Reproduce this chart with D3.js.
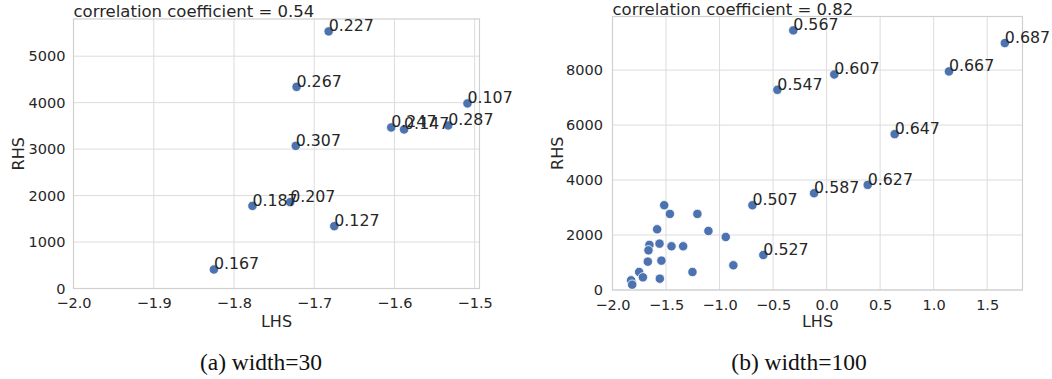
<!DOCTYPE html>
<html>
<head>
<meta charset="utf-8">
<script src="https://cdn.jsdelivr.net/npm/d3@7.9.0/dist/d3.min.js"></script>
<style>
  body { margin: 0; background: #fff; }
  svg { display: block; }
  text { font-family: "DejaVu Sans", sans-serif; fill: #262626; }
  .caption { font-family: "Liberation Serif", "Times New Roman", serif; fill: #111; }
</style>
</head>
<body>
<svg id="chart" width="1052" height="379"></svg>
<script>
// (a) width=30
const lhsA = [-1.682, -1.722, -1.509, -1.604, -1.588, -1.533, -1.723, -1.777, -1.730, -1.675, -1.825];
const rhsA = [5533, 4340, 3983, 3466, 3423, 3509, 3070, 1778, 1858, 1341, 409];
const labelsA = ["0.227", "0.267", "0.107", "0.247", "0.147", "0.287", "0.307", "0.187", "0.207", "0.127", "0.167"];
const xTicksA = [-2.0, -1.9, -1.8, -1.7, -1.6, -1.5];
const yTicksA = [0, 1000, 2000, 3000, 4000, 5000];

// (b) width=100 -- labelled points first, then the unlabelled cluster
const lhsB = [-0.311, 1.665, 0.072, 1.143, -0.460, 0.636, 0.384, -0.117, -0.693, -0.591,
  -1.517, -1.464, -1.207, -1.583, -1.104, -0.942, -1.655, -1.561, -1.449, -1.340,
  -1.664, -1.670, -1.543, -0.871, -1.751, -1.253, -1.716, -1.558, -1.826, -1.816];
const rhsB = [9444, 8983, 7842, 7951, 7283, 5669, 3824, 3520, 3083, 1274,
  3084, 2768, 2768, 2209, 2148, 1930, 1639, 1687, 1590, 1590,
  1444, 1032, 1068, 899, 655, 655, 461, 412, 352, 194];
const labelsB = ["0.567", "0.687", "0.607", "0.667", "0.547", "0.647", "0.627", "0.587", "0.507", "0.527"];
const xTicksB = [-2.0, -1.5, -1.0, -0.5, 0.0, 0.5, 1.0, 1.5];
const yTicksB = [0, 2000, 4000, 6000, 8000];

const svg = d3.select("#chart");

const panels = [
  {
    lhs: lhsA, rhs: rhsA, labels: labelsA, xTicks: xTicksA, yTicks: yTicksA,
    xDomain: [-2.0, -1.494], yDomain: [0, 5800],
    left: 73.5, right: 479.5, top: 19, bottom: 288.5, yPad: 8,
    title: "correlation coefficient = 0.54", titleY: 16.5,
    rhsX: 18, caption: "(a) width=30", capX: 261
  },
  {
    lhs: lhsB, rhs: rhsB, labels: labelsB, xTicks: xTicksB, yTicks: yTicksB,
    xDomain: [-2.0, 1.83], yDomain: [0, 9950],
    left: 612.5, right: 1022.5, top: 16.5, bottom: 290, yPad: 9.5,
    title: "correlation coefficient = 0.82", titleY: 15,
    rhsX: 557, caption: "(b) width=100", capX: 799
  }
];

panels.forEach(p => {
  const x = d3.scaleLinear().domain(p.xDomain).range([p.left, p.right]);
  const y = d3.scaleLinear().domain(p.yDomain).range([p.bottom, p.top]);
  const g = svg.append("g");

  // grid
  g.selectAll(".gx").data(p.xTicks).join("line")
    .attr("x1", d => x(d)).attr("x2", d => x(d))
    .attr("y1", p.top).attr("y2", p.bottom)
    .attr("stroke", "#dcdcdc").attr("stroke-width", 1);
  g.selectAll(".gy").data(p.yTicks).join("line")
    .attr("x1", p.left).attr("x2", p.right)
    .attr("y1", d => y(d)).attr("y2", d => y(d))
    .attr("stroke", "#dcdcdc").attr("stroke-width", 1);

  // frame
  g.append("rect")
    .attr("x", p.left).attr("y", p.top)
    .attr("width", p.right - p.left).attr("height", p.bottom - p.top)
    .attr("fill", "none").attr("stroke", "#d0d0d0").attr("stroke-width", 1.2);

  // axes (labels only, no tick marks)
  const xAxis = g.append("g").attr("transform", `translate(0,${p.bottom})`)
    .call(d3.axisBottom(x).tickValues(p.xTicks).tickFormat(d3.format(".1f")).tickSize(0).tickPadding(9.5));
  const yAxis = g.append("g").attr("transform", `translate(${p.left},0)`)
    .call(d3.axisLeft(y).tickValues(p.yTicks).tickFormat(d3.format("d")).tickSize(0).tickPadding(p.yPad));
  [xAxis, yAxis].forEach(a => {
    a.select(".domain").remove();
    a.selectAll("text").attr("font-size", 14.5).attr("fill", "#262626")
      .attr("font-family", "DejaVu Sans");
  });

  // points
  g.selectAll(".pt").data(p.lhs).join("circle")
    .attr("cx", d => x(d))
    .attr("cy", (d, i) => y(p.rhs[i]))
    .attr("r", 4.7)
    .attr("fill", "#4c72b0")
    .attr("stroke", "#fff").attr("stroke-width", 0.8);

  // point annotations
  g.selectAll(".lab").data(p.labels).join("text")
    .attr("x", (d, i) => x(p.lhs[i]))
    .attr("y", (d, i) => y(p.rhs[i]))
    .attr("font-size", 15.8)
    .text(d => d);

  // title + axis names
  g.append("text").attr("x", p.left).attr("y", p.titleY)
    .attr("font-size", 16.5).text(p.title);
  g.append("text").attr("x", (p.left + p.right) / 2).attr("y", 327)
    .attr("text-anchor", "middle").attr("font-size", 16).text("LHS");
  g.append("text")
    .attr("transform", `translate(${p.rhsX},${(p.top + p.bottom) / 2}) rotate(-90)`)
    .attr("text-anchor", "middle").attr("dy", "0.35em")
    .attr("font-size", 16).text("RHS");

  // caption
  g.append("text").attr("class", "caption")
    .attr("x", p.capX).attr("y", 370)
    .attr("text-anchor", "middle").attr("font-size", 23.5)
    .text(p.caption);
});
</script>
</body>
</html>
